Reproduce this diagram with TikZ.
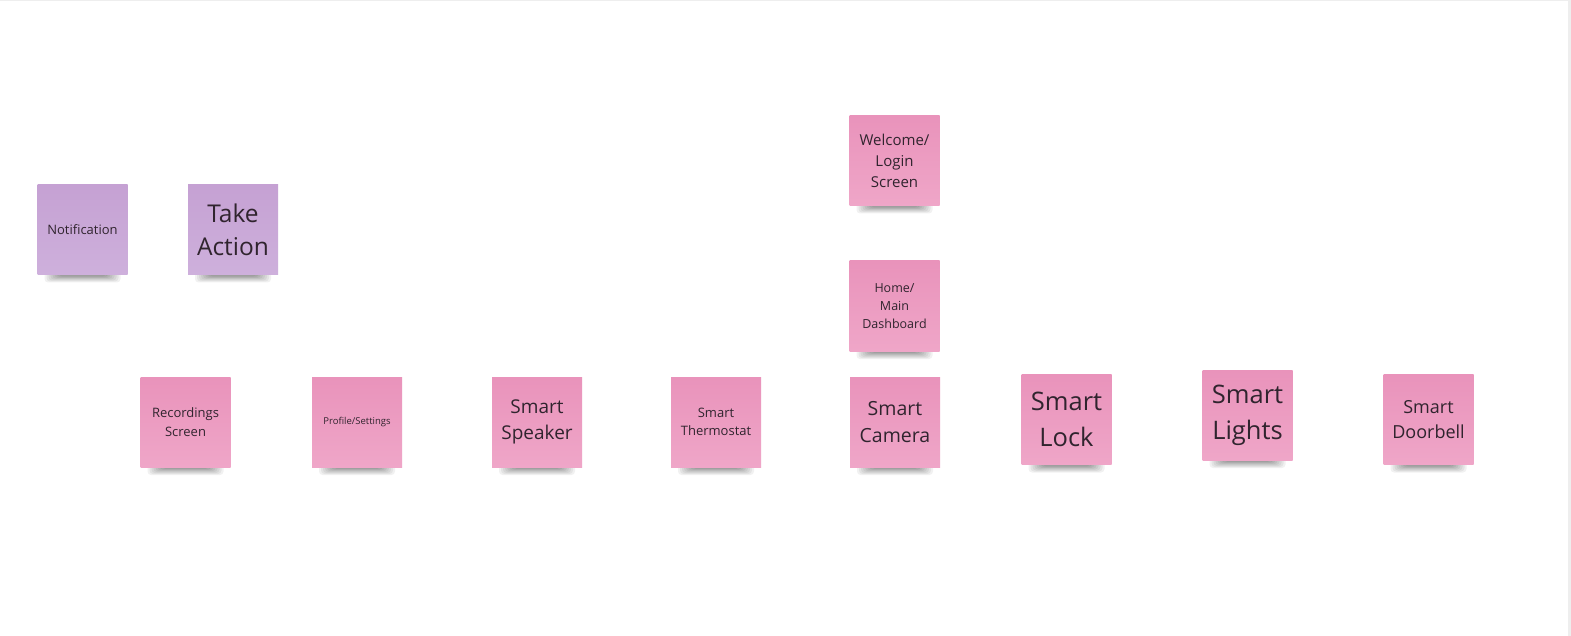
\documentclass[tikz,border=0pt]{standalone}
\usepackage{fontspec}
\setmainfont{Open Sans}
\definecolor{pinktop}{RGB}{233,147,187}
\definecolor{pinkbot}{RGB}{239,166,200}
\definecolor{purptop}{RGB}{197,161,211}
\definecolor{purpbot}{RGB}{206,176,220}
\definecolor{inkc}{RGB}{48,36,46}
\definecolor{edgegray}{RGB}{238,238,238}
\tikzset{
  note/.style={minimum width=90pt, minimum height=90pt, inner sep=2pt, align=center,
    text=inkc, top color=pinktop, bottom color=pinkbot},
  purplenote/.style={note, top color=purptop, bottom color=purpbot},
  shadowlayer/.style={fill=black, opacity=0.055, rounded corners=3.5pt}
}
\newcommand\stickynote[6]{%
  \begin{scope}[shift={(#2,-#3)}]
    \foreach \w/\h in {38/8,36/7,34/6,32/5,30/4.2,28/3.4,26/2.6,24/1.8}
      \fill[shadowlayer] (-\w,-45-\h) rectangle (\w,-45+\h);
  \end{scope}
  \node[#4, font=#5] (#1) at (#2,-#3) {#6};
}
\begin{document}
\begin{tikzpicture}[x=1pt,y=1pt]
  \useasboundingbox (0,0) rectangle (1571,-636);
  \fill[white] (0,0) rectangle (1571,-636);
  \fill[edgegray] (0,0) rectangle (1571,-1.5);
  \fill[edgegray] (1568,0) rectangle (1571,-636);

  \stickynote{notif}{82.5}{229.5}{purplenote}{\fontsize{13}{18}\selectfont}{Notification}
  \stickynote{take}{233}{229.5}{purplenote}{\fontsize{24.5}{33}\selectfont}{Take\\Action}

  \stickynote{welcome}{894.5}{160.5}{note}{\fontsize{15}{21}\selectfont}{Welcome/\\Login\\Screen}
  \stickynote{home}{894.5}{306}{note}{\fontsize{12.5}{18}\selectfont}{Home/\\Main\\Dashboard}

  \stickynote{rec}{185.5}{422}{note}{\fontsize{13}{18.5}\selectfont}{Recordings\\Screen}
  \stickynote{prof}{357}{422}{note}{\fontsize{9.5}{12}\selectfont}{Profile/Settings}
  \stickynote{speaker}{537}{422}{note}{\fontsize{19}{26}\selectfont}{Smart\\Speaker}
  \stickynote{thermo}{716}{422}{note}{\fontsize{13}{18}\selectfont}{Smart\\Thermostat}
  \stickynote{camera}{895}{422}{note}{\fontsize{19.5}{27}\selectfont}{Smart\\Camera}
  \stickynote{lock}{1066.5}{419.5}{note}{\fontsize{25.5}{36}\selectfont}{Smart\\Lock}
  \stickynote{lights}{1247.5}{415}{note}{\fontsize{25.5}{36}\selectfont}{Smart\\Lights}
  \stickynote{doorbell}{1428.5}{419.5}{note}{\fontsize{18}{25}\selectfont}{Smart\\Doorbell}
\end{tikzpicture}
\end{document}
